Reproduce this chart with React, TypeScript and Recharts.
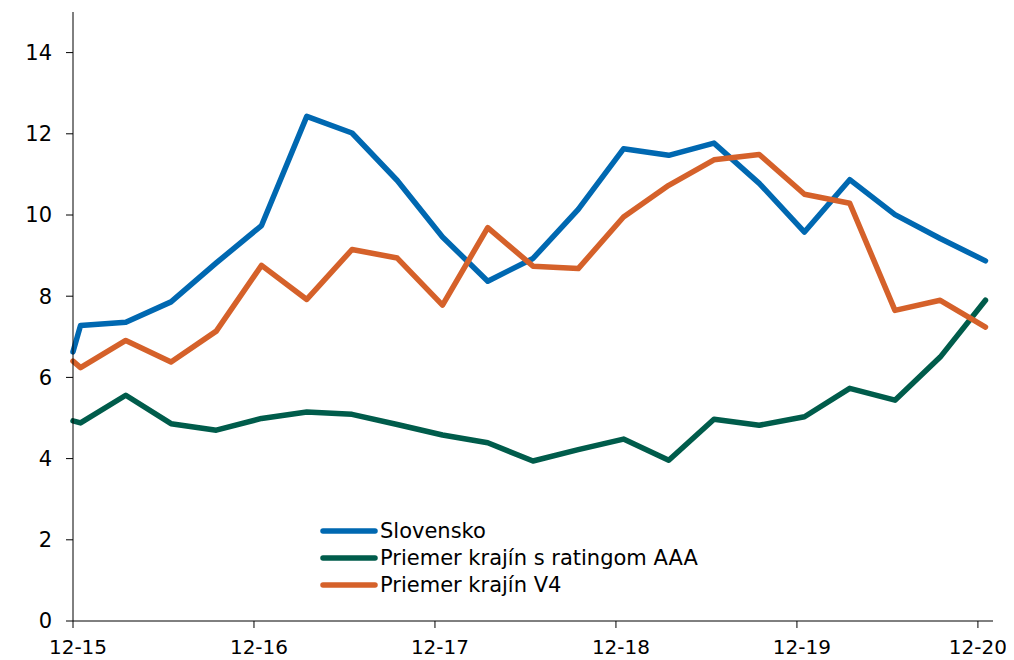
import { LineChart, Line, XAxis, YAxis } from 'recharts';

// month offsets from 12-15 (first value sits on the axis, then quarterly readings)
const xMonths = [0, 0.5, 3.5, 6.5, 9.5, 12.5, 15.5, 18.5, 21.5, 24.5, 27.5, 30.5, 33.5, 36.5, 39.5, 42.5, 45.5, 48.5, 51.5, 54.5, 57.5, 60.5];

const slovensko = [6.63, 7.28, 7.36, 7.86, 8.82, 9.74, 12.43, 12.02, 10.85, 9.46, 8.37, 8.93, 10.14, 11.63, 11.47, 11.77, 10.78, 9.58, 10.87, 10.01, 9.42, 8.87];
const aaa = [4.93, 4.88, 5.56, 4.86, 4.70, 4.99, 5.15, 5.09, 4.84, 4.58, 4.39, 3.94, 4.22, 4.48, 3.96, 4.97, 4.82, 5.03, 5.73, 5.44, 6.50, 7.90];
const v4 = [6.40, 6.24, 6.91, 6.38, 7.14, 8.76, 7.92, 9.15, 8.94, 7.78, 9.69, 8.74, 8.68, 9.95, 10.73, 11.36, 11.49, 10.51, 10.29, 7.65, 7.90, 7.24];

const xTicks = [0, 12, 24, 36, 48, 60];
const xTickLabels = ['12-15', '12-16', '12-17', '12-18', '12-19', '12-20'];
const yTicks = [0, 2, 4, 6, 8, 10, 12, 14];

const series = [
  { key: 'slovensko', name: 'Slovensko', color: '#0068B1' },
  { key: 'aaa', name: 'Priemer krajín s ratingom AAA', color: '#005C4B' },
  { key: 'v4', name: 'Priemer krajín V4', color: '#D5612A' },
];

const data = xMonths.map((m, i) => ({
  m,
  slovensko: slovensko[i],
  aaa: aaa[i],
  v4: v4[i],
}));

// x labels sit slightly right of their tick, last one kept inside the page
const XTick = ({ x, y, payload, index }: any) => {
  const i = xTicks.indexOf(payload.value);
  const shift = index === xTicks.length - 1 ? 0 : 5;
  return (
    <text x={x + shift} y={y + 21} textAnchor="middle" fill="#000" fontSize={20}>
      {xTickLabels[i]}
    </text>
  );
};

// legend drawn as an overlay so it doesn't shrink the plot area
const LegendBox = () => (
  <div style={{ position: 'absolute', left: 312, top: 509 }}>
    {series.map(s => (
      <div key={s.key} style={{ display: 'flex', alignItems: 'center', height: 27 }}>
        <svg width={58} height={10} style={{ marginRight: 2 }}>
          <line x1={3} y1={5} x2={55} y2={5} stroke={s.color} strokeWidth={5.5} strokeLinecap="round" />
        </svg>
        <span style={{ fontSize: 21, color: '#000', whiteSpace: 'nowrap' }}>{s.name}</span>
      </div>
    ))}
  </div>
);

export default function App() {
  const axisStyle = { stroke: '#000', strokeWidth: 1 };
  return (
    <div style={{ position: 'relative', width: 1006, height: 652, fontFamily: '"DejaVu Sans", Verdana, sans-serif' }}>
      <LineChart width={1006} height={652} data={data} margin={{ top: 4, right: 21, left: 0, bottom: 9 }}>
        <XAxis
          dataKey="m"
          type="number"
          domain={[0, 61]}
          ticks={xTicks}
          axisLine={axisStyle}
          tickLine={axisStyle}
          tickSize={7}
          tickMargin={5}
          height={30}
          tick={<XTick />}
        />
        <YAxis
          domain={[0, 15]}
          ticks={yTicks}
          axisLine={axisStyle}
          tickLine={axisStyle}
          tickSize={7}
          tickMargin={14}
          width={65}
          tick={{ fill: '#000', fontSize: 21 }}
        />
        {series.map(s => (
          <Line
            key={s.key}
            dataKey={s.key}
            name={s.name}
            type="linear"
            stroke={s.color}
            strokeWidth={5.5}
            strokeLinejoin="round"
            strokeLinecap="round"
            dot={false}
            isAnimationActive={false}
          />
        ))}
      </LineChart>
      <LegendBox />
    </div>
  );
}
